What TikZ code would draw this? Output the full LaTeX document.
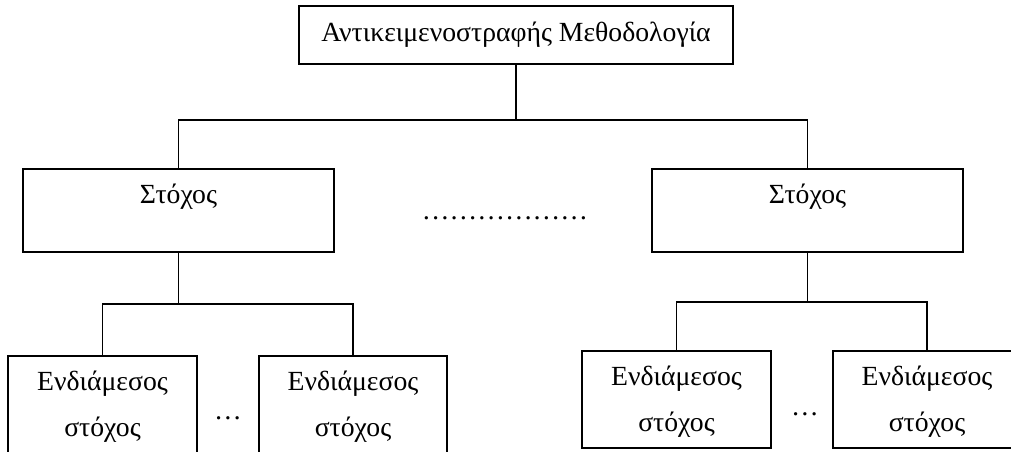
\documentclass[tikz,border=0pt]{standalone}
\usepackage{fontspec}
\setmainfont{Liberation Serif}
\usetikzlibrary{calc}
\begin{document}
\begin{tikzpicture}[x=1pt, y=-1pt,
  box/.style={draw, line width=1.3pt, rectangle, inner sep=0pt},
  wire/.style={line width=1.3pt},
  lbl/.style={anchor=base, inner sep=0pt, font=\fontsize{27.7}{31}\selectfont}]
  \useasboundingbox (0,0) rectangle (1011,452);
  \clip (0,0) rectangle (1011,452);

  % root
  \node[box, minimum width=434, minimum height=58, font=\fontsize{27.7}{31}\selectfont]
    (root) at (516,35) {Αντικειμενοστραφής Μεθοδολογία};

  % goals
  \node[box, minimum width=311, minimum height=83] (g1) at (178.5,210.5) {};
  \node[box, minimum width=311, minimum height=83] (g2) at (807.5,210.5) {};
  \node[lbl] (g1t) at ($(g1.north)+(0,35)$) {Στόχος};
  \node[lbl] (g2t) at ($(g2.north)+(0,35)$) {Στόχος};
  \node[lbl] (gdots) at (505,219) {………………};

  % intermediate goals
  \node[box, minimum width=189, minimum height=130] (s1) at (102.5,421) {};
  \node[box, minimum width=188, minimum height=130] (s2) at (353,421) {};
  \node[box, minimum width=189, minimum height=97] (s3) at (676.5,399.5) {};
  \node[box, minimum width=188, minimum height=97] (s4) at (927,399.5) {};
  \foreach \s in {s1,s2,s3,s4}{
    \node[lbl] (\s a) at ($(\s.north)+(0,35)$) {Ενδιάμεσος};
    \node[lbl] (\s b) at ($(\s.north)+(0,81)$) {στόχος};
  }
  \node[lbl] (d1) at (228,419) {…};
  \node[lbl] (d2) at (805,415) {…};

  % connectors
  \coordinate (busA) at (0,120);
  \coordinate (busB) at (0,304);
  \coordinate (busC) at (0,302);
  \draw[wire] (root.south) -- (root.south |- busA);
  \draw[wire] (g1.north) |- (root.south |- busA) -| (g2.north);
  \draw[wire] (g1.south) -- (g1.south |- busB);
  \draw[wire] (s1.north) |- (g1.south |- busB) -| (s2.north);
  \draw[wire] (g2.south) -- (g2.south |- busC);
  \draw[wire] (s3.north) |- (g2.south |- busC) -| (s4.north);
\end{tikzpicture}
\end{document}
